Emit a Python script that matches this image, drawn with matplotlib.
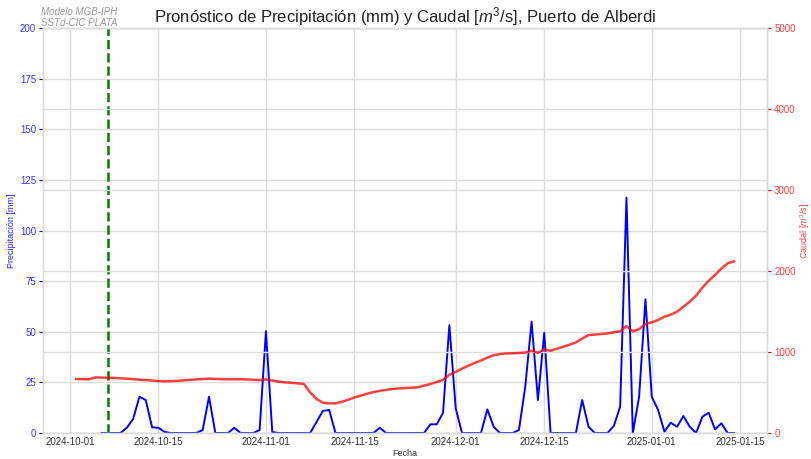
import numpy as np
import pandas as pd
import matplotlib
matplotlib.use("Agg")
import matplotlib.pyplot as plt
import matplotlib.dates as mdates

# ==========================================
# DATA
# ==========================================

precip_start = "2024-10-06"
precip_mm = [
    0, 0, 0, 0, 2.6, 6.9, 17.9, 16.3, 2.8, 2.6,
    0.5, 0, 0, 0, 0, 0, 1.5, 17.9, 0, 0,
    0, 2.6, 0, 0, 0, 1.5, 50.3, 0.5, 0, 0,
    0, 0, 0, 0, 5.5, 10.9, 11.4, 0, 0, 0,
    0, 0, 0, 0, 2.6, 0, 0, 0, 0, 0,
    0, 0, 4.3, 4.3, 10, 53.3, 12.2, 0, 0, 0,
    0, 11.7, 3.1, 0, 0, 0, 1.5, 22.9, 55, 16.3,
    49.5, 0, 0, 0, 0, 0, 16.3, 3.1, 0, 0,
    0, 3.5, 13, 116.2, 0, 17.9, 66, 17.9, 11.4, 0.7,
    5.1, 3.1, 8.4, 3.1, 0, 8, 10, 1.8, 4.8, 0,
    0,
]

caudal_start = "2024-10-02"
caudal_m3s = [
    667, 665, 663, 686, 684, 683, 680, 676, 671, 665,
    659, 654, 648, 642, 638, 640, 644, 650, 656, 663,
    667, 671, 668, 666, 664, 664, 663, 661, 658, 654,
    662, 648, 634, 626, 620, 614, 605, 500, 420, 375,
    366, 366, 385, 410, 440, 462, 485, 505, 520, 533,
    543, 550, 555, 560, 565, 585, 605, 630, 655, 720,
    755, 795, 830, 865, 895, 930, 960, 975, 982, 985,
    988, 993, 1016, 990, 1033, 1015, 1040, 1066, 1090, 1119,
    1165, 1210, 1215, 1222, 1230, 1243, 1255, 1321, 1255, 1282,
    1346, 1366, 1395, 1436, 1460, 1498, 1560, 1621, 1695, 1794,
    1880, 1951, 2030, 2095, 2120,
]

inicio_pronostico = "2024-10-07"

fechas_p = pd.date_range(precip_start, periods=len(precip_mm), freq="D")
fechas_q = pd.date_range(caudal_start, periods=len(caudal_m3s), freq="D")

# ==========================================
# STYLE
# ==========================================

plt.rcParams["font.family"] = ["Liberation Sans", "DejaVu Sans"]
plt.rcParams["mathtext.fontset"] = "custom"
plt.rcParams["mathtext.it"] = "Liberation Sans:italic"
plt.rcParams["mathtext.rm"] = "Liberation Sans"

grid_color = "#dcdcdc"

fig = plt.figure(figsize=(8.11, 4.59), dpi=100)
ax = fig.add_axes([0.053, 0.0566, 0.893, 0.8824])
ax2 = ax.twinx()

# ==========================================
# PLOT
# ==========================================

ax.plot(fechas_p, precip_mm, color="blue", lw=1.4, zorder=3)
ax2.plot(fechas_q, caudal_m3s, color="red", alpha=0.75, lw=1.8, zorder=3)

ax.axvline(pd.Timestamp(inicio_pronostico), color="green", ls="--", lw=1.8, zorder=4)

ax.set_ylim(0, 200)
ax.set_yticks(np.arange(0, 201, 25))
ax2.set_ylim(0, 5000)
ax2.set_yticks(np.arange(0, 5001, 1000))

ax.set_xlim(pd.Timestamp("2024-09-26 18:00"), pd.Timestamp("2025-01-19 06:00"))
ax.xaxis.set_major_locator(mdates.DayLocator(bymonthday=[1, 15]))
ax.xaxis.set_major_formatter(mdates.DateFormatter("%Y-%m-%d"))

ax.grid(True, color=grid_color, lw=1.0)
ax2.grid(True, axis="y", color=grid_color, lw=1.0)
ax.set_axisbelow(True)
ax2.set_axisbelow(True)

for a in (ax, ax2):
    for s in a.spines.values():
        s.set_color(grid_color)
        s.set_linewidth(1.0)

ax.tick_params(axis="y", colors="blue", labelsize=7, length=3, width=0.8, pad=2)
ax.tick_params(axis="x", colors="#333333", labelsize=7, length=0, pad=3)
ax2.tick_params(axis="y", colors="red", labelsize=7, length=3, width=0.8, pad=2)
for lab in ax.get_yticklabels():
    lab.set_alpha(0.8)
for lab in ax2.get_yticklabels():
    lab.set_alpha(0.75)

ax.set_ylabel("Precipitación [mm]", color="blue", fontsize=6.5, labelpad=3, alpha=0.85)
ax2.set_ylabel("Caudal [$m^3$/s]", color="red", fontsize=6.5, alpha=0.75, labelpad=2)
ax.set_xlabel("Fecha", color="#333333", fontsize=6.5, labelpad=1)

ax.set_title("Pronóstico de Precipitación (mm) y Caudal [$m^3$/s], Puerto de Alberdi",
             fontsize=12, color="#222222", pad=3)

fig.text(0.098, 0.985, "Modelo MGB-IPH\nSSTd-CIC PLATA", ha="center", va="top",
         fontsize=7, style="italic", color="#999999", linespacing=1.15)

fig.savefig("out.png", dpi=100)
